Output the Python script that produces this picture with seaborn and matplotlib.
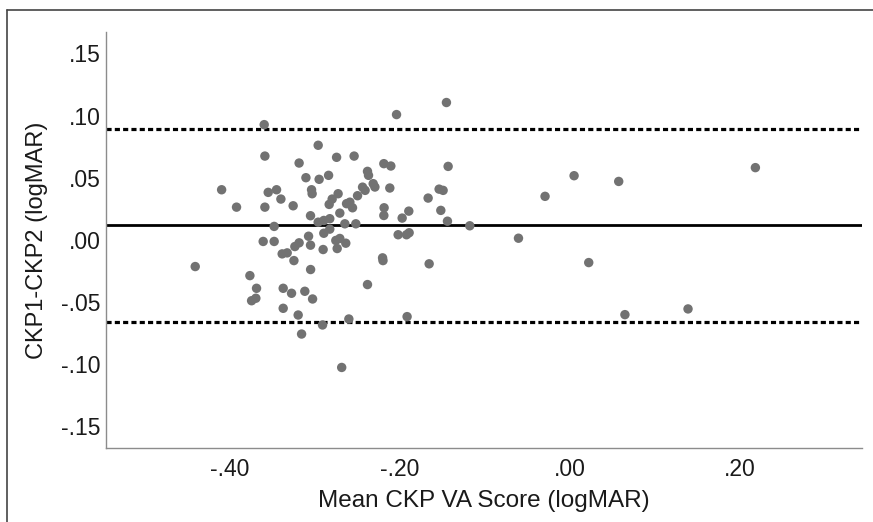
# Bland-Altman style plot: CKP1 vs CKP2
import seaborn as sns
import matplotlib.pyplot as plt
from matplotlib.ticker import FuncFormatter, FixedLocator
from matplotlib.lines import Line2D
import pandas as pd

# Data
mean_va = [
    -0.440, -0.409, -0.3915, -0.3758, -0.368, -0.3738, -0.3688, -0.359, -0.3582, -0.3582,
    -0.3543, -0.3445, -0.3394, -0.3473, -0.3602, -0.3473, -0.3379, -0.332, -0.3367, -0.3367,
    -0.3269, -0.325, -0.3241, -0.323, -0.318, -0.3191, -0.318, -0.3151, -0.3113, -0.310,
    -0.3069, -0.3046, -0.3034, -0.3027, -0.3045, -0.3022, -0.3046, -0.2956, -0.2945, -0.2956,
    -0.289, -0.2898, -0.2905, -0.289, -0.282, -0.2834, -0.282, -0.2827, -0.2792, -0.274,
    -0.2722, -0.2749, -0.2733, -0.2702, -0.2702, -0.268, -0.2643, -0.2632, -0.2623, -0.2584,
    -0.2596, -0.2553, -0.2534, -0.2514, -0.2494, -0.2435, -0.2405, -0.2377, -0.2365, -0.2377,
    -0.231, -0.229, -0.2200, -0.2195, -0.2185, -0.2182, -0.2185, -0.2115, -0.2103, -0.2036,
    -0.2017, -0.197, -0.1919, -0.1892, -0.1888, -0.1912, -0.1665, -0.1653, -0.1536, -0.1489,
    -0.1516, -0.1438, -0.145, -0.143, -0.1176, -0.0604, -0.0292, 0.0049, 0.0221, 0.0573,
    0.0646, 0.1387, 0.2178,
]
diff_va = [
    -0.0215, 0.0403, 0.0263, -0.0288, -0.039, -0.049, -0.047, 0.0927, 0.0674, 0.0263,
    0.0382, 0.0403, 0.0328, 0.0108, -0.0013, -0.0013, -0.0113, -0.0105, -0.039, -0.0551,
    -0.043, 0.0274, -0.0167, -0.0054, -0.0024, -0.0605, 0.0618, -0.0758, -0.0414, 0.050,
    0.0029, 0.0194, 0.0403, 0.0371, -0.0239, -0.0476, -0.0043, 0.0761, 0.0487, 0.0142,
    0.0156, -0.0078, -0.0685, 0.0053, 0.017, 0.0519, 0.0086, 0.0285, 0.0328, 0.0664,
    0.0371, -0.0005, -0.007, 0.0215, 0.0011, -0.1027, 0.0129, -0.0027, 0.0291, 0.0303,
    -0.0637, 0.0258, 0.0674, 0.0129, 0.0355, 0.0424, 0.0398, 0.0551, 0.0519, -0.036,
    0.0452, 0.0425, -0.0145, -0.0167, 0.0613, 0.0258, 0.0196, 0.0417, 0.0594, 0.1008,
    0.0041, 0.0175, 0.0041, 0.0231, 0.0057, -0.0618, 0.0336, -0.0193, 0.0408, 0.0398,
    0.0237, 0.015, 0.1105, 0.0591, 0.0113, 0.0013, 0.035, 0.0516, -0.0183, 0.047,
    -0.0602, -0.0556, 0.0581,
]
mean_diff = 0.0118
upper_loa = 0.0895
lower_loa = -0.0659

x_ticks = [-0.40, -0.20, 0.00, 0.20]
y_ticks = [-0.15, -0.10, -0.05, 0.00, 0.05, 0.10, 0.15]

df = pd.DataFrame({"mean": mean_va, "diff": diff_va})

sns.set_style("white")
plt.rcParams["font.family"] = ["Liberation Sans", "DejaVu Sans"]

fig = plt.figure(figsize=(8.73, 5.22), dpi=100)
ax = fig.add_axes([0.1212, 0.1418, 0.8662, 0.7975])

sns.scatterplot(data=df, x="mean", y="diff", ax=ax, color="#727272",
                s=46, edgecolor="none", zorder=3)

# mean difference and limits of agreement
ax.axhline(mean_diff, color="black", lw=2.0, zorder=2)
ax.axhline(upper_loa, color="black", lw=2.3, ls=(0, (1.6, 1.0)), zorder=2)
ax.axhline(lower_loa, color="black", lw=2.3, ls=(0, (1.6, 1.0)), zorder=2)

ax.set_xlim(-0.545, 0.343)
ax.set_ylim(-0.1675, 0.1675)

fmt = FuncFormatter(lambda v, p: ("-" if v < -1e-9 else "") + f"{abs(v):.2f}"[1:])
ax.xaxis.set_major_locator(FixedLocator(x_ticks))
ax.yaxis.set_major_locator(FixedLocator(y_ticks))
ax.xaxis.set_major_formatter(fmt)
ax.yaxis.set_major_formatter(fmt)
ax.tick_params(axis="both", length=0, labelsize=16.5, colors="#1a1a1a")
ax.tick_params(axis="x", pad=7)
ax.tick_params(axis="y", pad=4)

ax.set_xlabel("Mean CKP VA Score (logMAR)", fontsize=17.5, color="#1a1a1a", labelpad=7)
ax.set_ylabel("CKP1-CKP2 (logMAR)", fontsize=17, color="#1a1a1a", labelpad=9)

for side in ["top", "right"]:
    ax.spines[side].set_visible(False)
for side in ["left", "bottom"]:
    ax.spines[side].set_color("#8c8c8c")
    ax.spines[side].set_linewidth(1.0)

# outer frame of the image
fig.add_artist(Line2D([7 / 873, 7 / 873], [0, 1 - 10 / 522], transform=fig.transFigure,
                      color="#444444", lw=1.2))
fig.add_artist(Line2D([7 / 873, 1], [1 - 10 / 522, 1 - 10 / 522], transform=fig.transFigure,
                      color="#444444", lw=1.2))

fig.savefig("out.png", dpi=100)
